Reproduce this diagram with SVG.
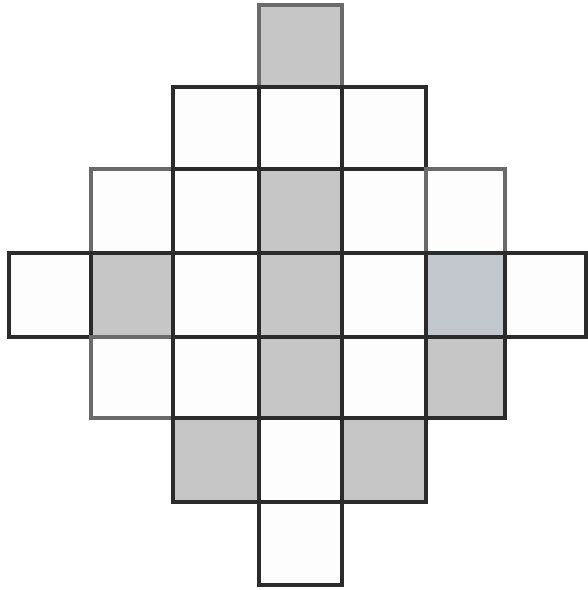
<svg xmlns="http://www.w3.org/2000/svg" width="588" height="590" viewBox="0 0 588 590">
<style>
.c{stroke:#2b2b2b;stroke-width:4;fill:#fdfdfd}
.g{fill:#c6c6c6}
.b{fill:#c3c8cf}
.o{stroke:#6a6a6a}
</style>
<rect width="588" height="590" fill="#fff"/>
<g id="r0c3"><rect class="c g o" x="259" y="5" width="83" height="82"/></g>
<g id="r1c2"><rect class="c" x="173" y="87" width="86" height="82"/></g>
<g id="r1c3"><rect class="c" x="259" y="87" width="83" height="82"/></g>
<g id="r1c4"><rect class="c" x="342" y="87" width="84" height="82"/></g>
<g id="r2c1"><rect class="c o" x="91" y="169" width="82" height="84"/></g>
<g id="r2c2"><rect class="c" x="173" y="169" width="86" height="84"/></g>
<g id="r2c3"><rect class="c g" x="259" y="169" width="83" height="84"/></g>
<g id="r2c4"><rect class="c" x="342" y="169" width="84" height="84"/></g>
<g id="r2c5"><rect class="c o" x="426" y="169" width="79" height="84"/></g>
<g id="r3c0"><rect class="c" x="9" y="253" width="82" height="84"/></g>
<g id="r3c1"><rect class="c g" x="91" y="253" width="82" height="84"/></g>
<g id="r3c2"><rect class="c" x="173" y="253" width="86" height="84"/></g>
<g id="r3c3"><rect class="c g" x="259" y="253" width="83" height="84"/></g>
<g id="r3c4"><rect class="c" x="342" y="253" width="84" height="84"/></g>
<g id="r3c5"><rect class="c b" x="426" y="253" width="79" height="84"/></g>
<g id="r3c6"><rect class="c" x="505" y="253" width="81" height="84"/></g>
<g id="r4c1"><rect class="c o" x="91" y="337" width="82" height="81"/></g>
<g id="r4c2"><rect class="c" x="173" y="337" width="86" height="81"/></g>
<g id="r4c3"><rect class="c g" x="259" y="337" width="83" height="81"/></g>
<g id="r4c4"><rect class="c" x="342" y="337" width="84" height="81"/></g>
<g id="r4c5"><rect class="c g" x="426" y="337" width="79" height="81"/></g>
<g id="r5c2"><rect class="c g" x="173" y="418" width="86" height="84"/></g>
<g id="r5c3"><rect class="c" x="259" y="418" width="83" height="84"/></g>
<g id="r5c4"><rect class="c g" x="342" y="418" width="84" height="84"/></g>
<g id="r6c3"><rect class="c" x="259" y="502" width="83" height="83"/></g>
<g id="connectors"></g>
</svg>
